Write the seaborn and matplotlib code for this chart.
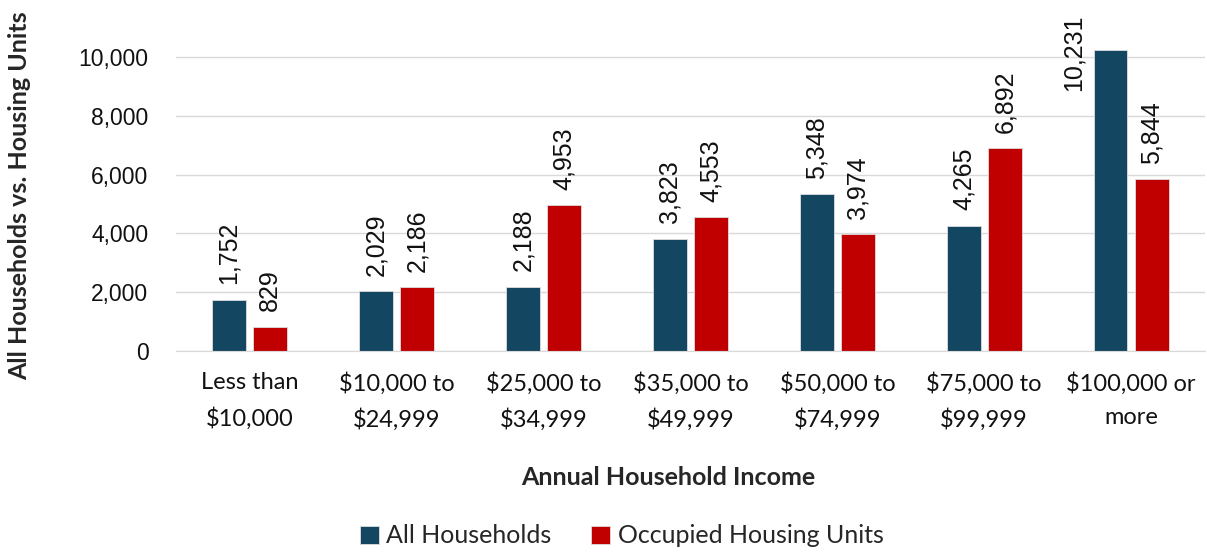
import pandas as pd
import matplotlib.pyplot as plt
import seaborn as sns

# data
categories = ['Less than\n$10,000', '$10,000 to\n$24,999', '$25,000 to\n$34,999',
              '$35,000 to\n$49,999', '$50,000 to\n$74,999', '$75,000 to\n$99,999',
              '$100,000 or\nmore']
all_households = [1752, 2029, 2188, 3823, 5348, 4265, 10231]
occupied_units = [829, 2186, 4953, 4553, 3974, 6892, 5844]
series_names = ['All Households', 'Occupied Housing Units']

df = pd.DataFrame({
    'Income': categories * 2,
    'Value': all_households + occupied_units,
    'Series': [series_names[0]] * len(categories) + [series_names[1]] * len(categories),
})

sns.set_style("whitegrid")
plt.rcParams['font.family'] = ['Lato', 'DejaVu Sans']

fig = plt.figure(figsize=(12.07, 5.52), dpi=100)
ax = fig.add_axes([0.146, 0.364, 0.852, 0.586])

sns.barplot(data=df, x='Income', y='Value', hue='Series',
            palette=['#134660', '#C00000'], saturation=1, width=0.56, gap=0.18,
            edgecolor='#dddddd', linewidth=0.6, ax=ax)

# value labels (the tallest one doesn't fit above its bar, so it sits beside it)
ymax = 11000
for cont in ax.containers:
    for bar, v in zip(cont, cont.datavalues):
        txt = f'{v:,.0f}'
        if v > 9000:
            ax.annotate(txt, (bar.get_x(), v), xytext=(-6, -2), textcoords='offset points',
                        rotation=90, ha='right', va='center', fontsize=18,
                        family='Liberation Sans', color='#111111')
        else:
            ax.annotate(txt, (bar.get_x() + bar.get_width() / 2, v), xytext=(0, 11),
                        textcoords='offset points', rotation=90, ha='center', va='bottom',
                        fontsize=18, family='Liberation Sans', color='#111111')

ax.set_ylim(0, ymax)
ax.set_yticks(range(0, 10001, 2000))
ax.set_yticklabels([f'{v:,}' for v in range(0, 10001, 2000)], family='Liberation Sans')
ax.set_xlim(-0.5, 6.5)
ax.grid(axis='y', color='#d9d9d9', linewidth=1)
ax.grid(axis='x', visible=False)
for s in ['top', 'right', 'left']:
    ax.spines[s].set_visible(False)
ax.spines['bottom'].set_color('#d9d9d9')
ax.tick_params(axis='x', labelsize=17, pad=15, length=0, colors='#111111')
ax.tick_params(axis='y', labelsize=16.5, pad=20, length=0, colors='#111111')
for lab in ax.get_xticklabels():
    lab.set_linespacing(1.75)

ax.set_xlabel('Annual Household Income', fontsize=18, fontweight='bold')
ax.xaxis.label.set_va('center')
ax.xaxis.set_label_coords(0.478, -0.39)
ax.set_ylabel('All Households vs. Housing Units', fontsize=18, fontweight='bold')
ax.yaxis.label.set_va('center')
ax.yaxis.set_label_coords(-0.152, 0.479)

handles, labels = ax.get_legend_handles_labels()
ax.legend_.remove()
fig.legend(handles, labels, loc='center', bbox_to_anchor=(0.515, 0.029), ncol=2,
           frameon=False, fontsize=18, handlelength=0.75, handleheight=0.75,
           columnspacing=1.6, handletextpad=0.3)

fig.savefig('out.png', dpi=100)
